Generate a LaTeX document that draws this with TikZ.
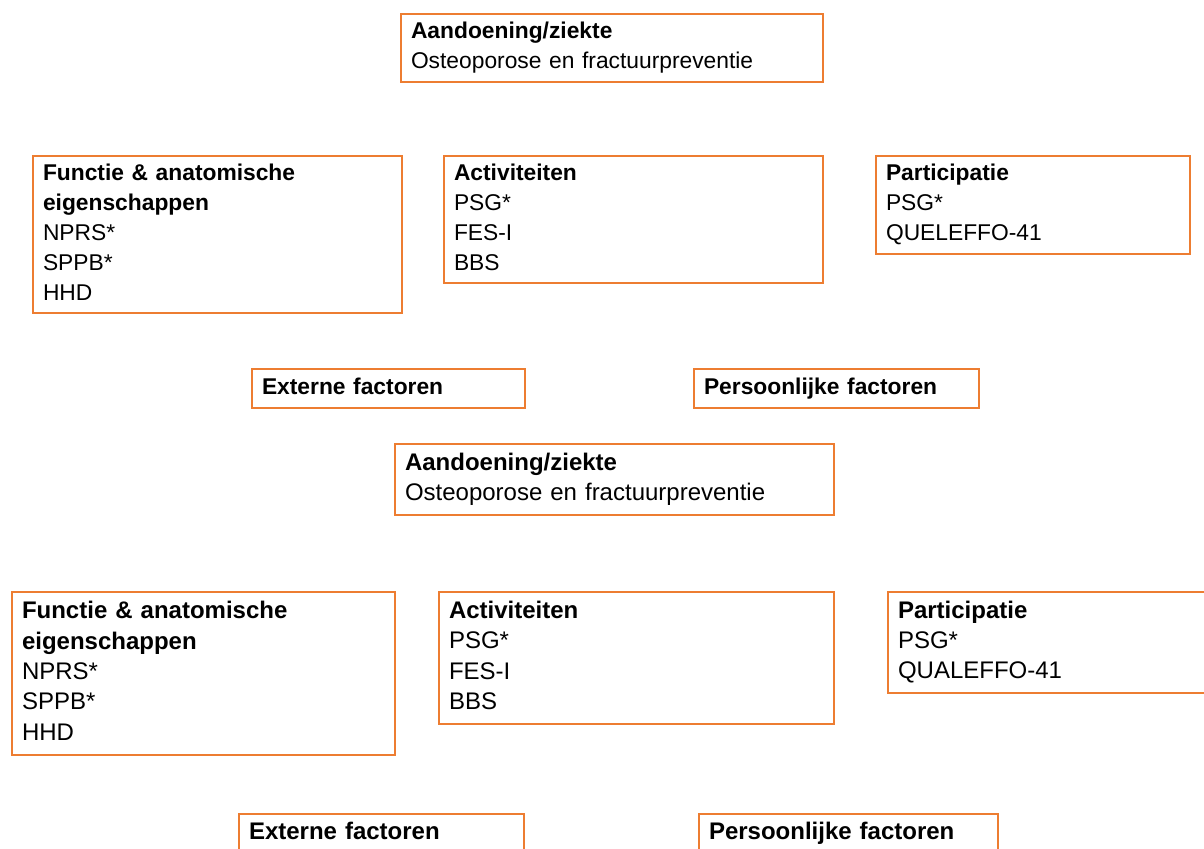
\documentclass[tikz,border=0pt]{standalone}
\usepackage{fontspec}
\setmainfont{Liberation Sans}
\definecolor{box edge}{RGB}{237,125,49}
\tikzset{
  card/.style={draw=box edge, line width=1pt, rectangle, anchor=north west, align=left,
    inner xsep=5pt, inner ysep=0pt, font=\fontsize{11.4}{15}\selectfont,
    execute at begin node=\strut, execute at end node=\strut},
  big card/.style={card, font=\fontsize{12}{15.2}\selectfont}
  }

\begin{document}
\begin{tikzpicture}[x=0.5pt, y=-0.5pt]

    % The page
    \useasboundingbox (0,0) rectangle (1204,849);
    \clip (0,0) rectangle (1204,849);

    % The first scheme
    \node[card, text width=201pt, minimum height=34pt] (aandoening) at (400,13)
      {\textbf{Aandoening/ziekte}\\Osteoporose en fractuurpreventie};
    \node[card, text width=174.5pt, minimum height=78.5pt] (functie) at (32,155)
      {\textbf{Functie \& anatomische}\\\textbf{eigenschappen}\\NPRS*\\SPPB*\\HHD};
    \node[card, text width=179.5pt, minimum height=63.5pt] (activiteiten) at (443,155)
      {\textbf{Activiteiten}\\PSG*\\FES-I\\BBS};
    \node[card, text width=147pt, minimum height=49pt] (participatie) at (875,155)
      {\textbf{Participatie}\\PSG*\\QUELEFFO-41};

    % The factors
    \foreach \pos/\name/\w/\txt in {{(251,368)/extern/126.5pt/Externe factoren},
                                    {(693,368)/persoonlijk/132.5pt/Persoonlijke factoren}}
      \node[card, text width=\w, minimum height=19.5pt] (\name) at \pos {\textbf{\txt}};

    % The second scheme
    \node[big card, text width=209.5pt, minimum height=35.5pt] (aandoening b) at (394,443)
      {\textbf{Aandoening/ziekte}\\Osteoporose en fractuurpreventie};
    \node[big card, text width=181.5pt, minimum height=81.5pt] (functie b) at (11,591)
      {\textbf{Functie \& anatomische}\\\textbf{eigenschappen}\\NPRS*\\SPPB*\\HHD};
    \node[big card, text width=187.5pt, minimum height=66pt] (activiteiten b) at (438,591)
      {\textbf{Activiteiten}\\PSG*\\FES-I\\BBS};
    \node[big card, text width=155pt, minimum height=50.5pt] (participatie b) at (887,591)
      {\textbf{Participatie}\\PSG*\\QUALEFFO-41};

    % The factors again
    \foreach \pos/\name/\w/\txt in {{(238,813)/extern b/132.5pt/Externe factoren},
                                    {(698,813)/persoonlijk b/139.5pt/Persoonlijke factoren}}
      \node[big card, text width=\w, minimum height=19.5pt] (\name) at \pos {\textbf{\txt}};
\end{tikzpicture}
\end{document}
